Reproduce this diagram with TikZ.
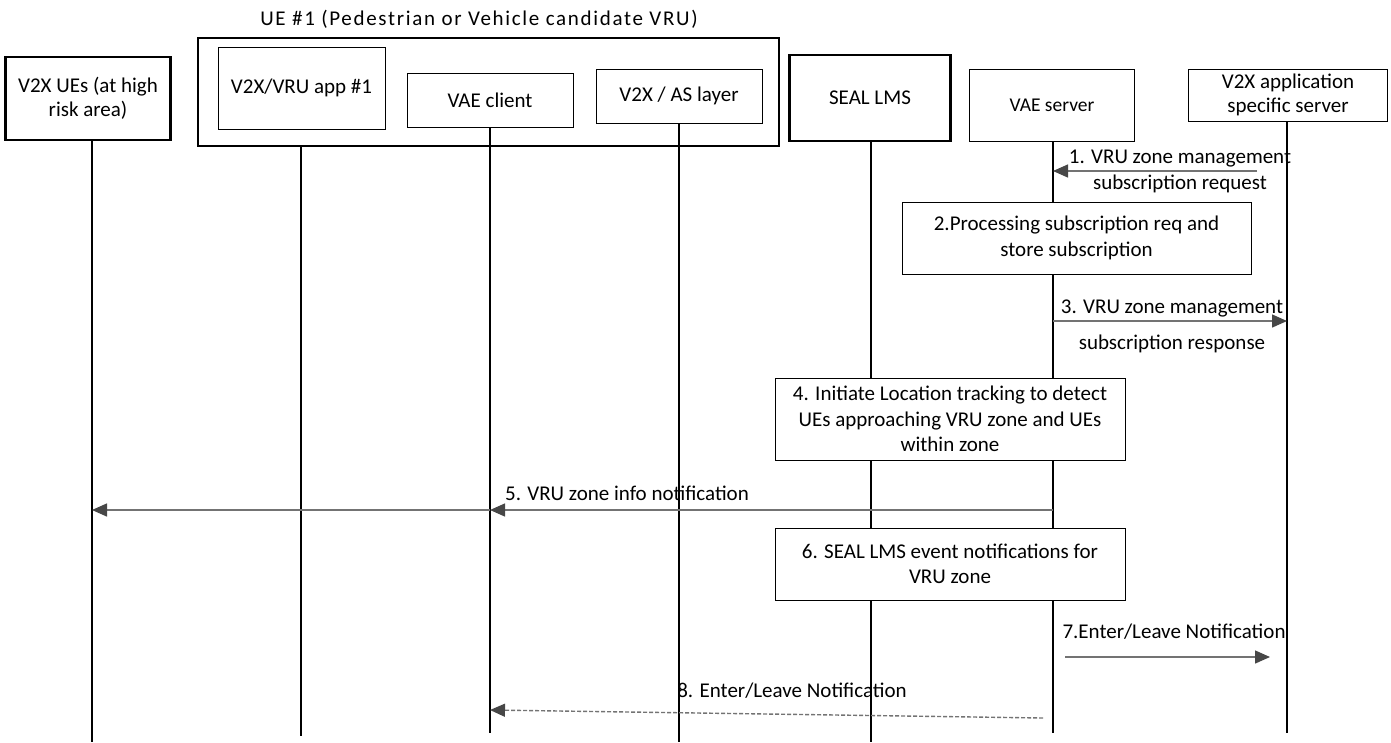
\documentclass[tikz,border=0pt]{standalone}
\usepackage{fontspec}
\setmainfont{Carlito}
\usetikzlibrary{arrows.meta}
\definecolor{lnc}{gray}{0.45}
\definecolor{tipc}{gray}{0.28}
\tikzset{
  ent/.style={draw=black, line width=1pt, fill=white, align=center, inner sep=2pt, font=\fontsize{21}{24}\selectfont},
  thk/.style={ent, line width=2.4pt},
  proc/.style={ent, font=\fontsize{21}{25.5}\selectfont},
  life/.style={draw=black, line width=1.3pt},
  msg/.style={draw=lnc, line width=1.4pt, -{Triangle[length=15pt,width=13pt,fill=tipc,color=tipc]}},
  lbl/.style={font=\fontsize{21}{26}\selectfont, align=center, inner sep=0pt},
}
\begin{document}
\begin{tikzpicture}[x=1pt,y=-1pt]
\useasboundingbox (0,0) rectangle (1391,742);
% title and UE#1 container
\node[lbl, font=\fontsize{21}{26}\selectfont\addfontfeatures{LetterSpace=8}] (title) at (479,19) {UE \#1 (Pedestrian or Vehicle candidate VRU)};
\node[draw=black, line width=2pt, minimum width=581pt, minimum height=108pt, inner sep=0pt] (ue1) at (488.5,92) {};
% entities
\node[thk, minimum width=165pt, minimum height=83pt] (ues) at (88,98.5) {V2X UEs (at high\\risk area)};
\node[ent, minimum width=167pt, minimum height=82pt] (app) at (301.5,88) {V2X/VRU app \#1};
\node[ent, minimum width=166pt, minimum height=54pt] (vaec) at (490,100) {VAE client};
\node[ent, minimum width=166pt, minimum height=54pt] (as) at (679,96) {V2X / AS layer};
\node[thk, minimum width=161pt, minimum height=86pt] (lms) at (870,98) {SEAL LMS};
\node[ent, minimum width=165pt, minimum height=72pt, font=\fontsize{19.5}{24}\selectfont] (vaes) at (1052,105) {VAE server};
\node[ent, minimum width=199pt, minimum height=52pt] (asrv) at (1288,95) {V2X application\\specific server};
% lifeline ends
\coordinate (e1) at (92,742);
\coordinate (e2) at (301,736);
\coordinate (e3) at (490,733);
\coordinate (e4) at (679,742);
\coordinate (e5) at (871,742);
\coordinate (e6) at (1053,733);
\coordinate (e7) at (1287,733);
\draw[life] (e1 |- ues.south) -- (e1);
\draw[life] (e2 |- ue1.south) -- (e2);
\draw[life] (e3 |- vaec.south) -- (e3);
\draw[life] (e4 |- as.south) -- (e4);
\draw[life] (e5 |- lms.south) -- (e5);
\draw[life] (e6 |- vaes.south) -- (e6);
\draw[life] (e7 |- asrv.south) -- (e7);
% step boxes
\node[proc, minimum width=349pt, minimum height=72pt] (s2) at (1076.5,238) {2.Processing subscription req and\\store subscription};
\node[proc, minimum width=350pt, minimum height=82pt] (s4) at (950,419) {4. Initiate Location tracking to detect\\UEs approaching VRU zone and UEs\\within zone};
\node[proc, minimum width=350pt, minimum height=72pt] (s6) at (950,564) {6. SEAL LMS event notifications for\\VRU zone};
% messages
\coordinate (m1a) at (1257,171);
\coordinate (m1b) at (1053,171);
\draw[msg] (m1a) -- (m1b);
\node[lbl] (l1) at (1180,171) {1. VRU zone management\\subscription request};
\coordinate (m3a) at (1053,321);
\coordinate (m3b) at (1287,321);
\draw[msg] (m3a) -- (m3b);
\node[lbl] (l3a) at (1172,308) {3. VRU zone management};
\node[lbl] (l3b) at (1172,344) {subscription response};
\coordinate (m5a) at (1053,510);
\coordinate (m5b) at (490,510);
\coordinate (m5c) at (92,510);
\draw[msg] (m5a) -- (m5b);
\draw[msg] (m5b) -- (m5c);
\node[lbl] (l5) at (627,493) {5. VRU zone info notification};
\coordinate (m7a) at (1065,657);
\coordinate (m7b) at (1270,657);
\draw[msg] (m7a) -- (m7b);
\node[lbl] (l7) at (1174,632) {7.Enter/Leave Notification};
\coordinate (m8a) at (1043,718);
\coordinate (m8b) at (490,710);
\draw[msg, dashed, dash pattern=on 4pt off 2pt] (m8a) -- (m8b);
\node[lbl] (l8) at (792,691) {8. Enter/Leave Notification};
\end{tikzpicture}
\end{document}
